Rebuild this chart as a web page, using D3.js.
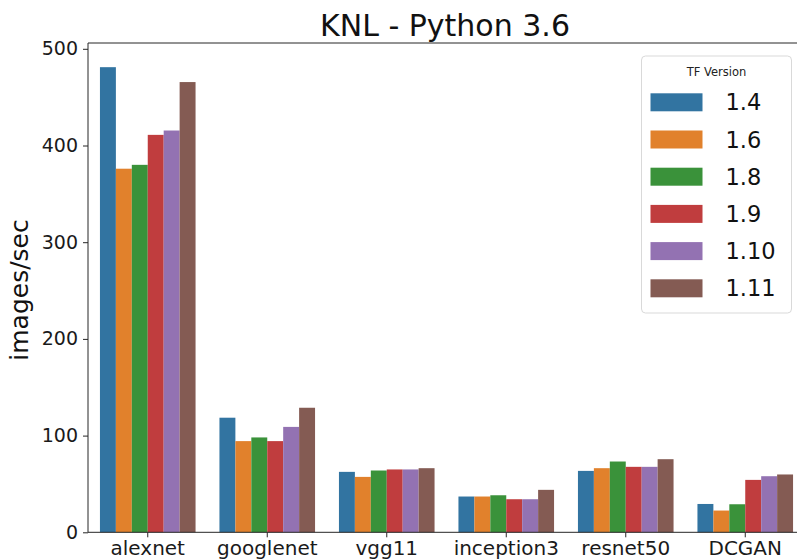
<!DOCTYPE html>
<html>
<head>
<meta charset="utf-8">
<script src="https://cdn.jsdelivr.net/npm/d3@7"></script>
<style>
  html, body { margin: 0; padding: 0; background: #fff; }
  svg { display: block; font-family: "DejaVu Sans", sans-serif; }
</style>
</head>
<body>
<svg id="chart" width="797" height="560"></svg>
<script>
// Benchmark models on the x axis
const models = ["alexnet", "googlenet", "vgg11", "inception3", "resnet50", "DCGAN"];
// TensorFlow versions (one bar per version in each group)
const versions = ["1.4", "1.6", "1.8", "1.9", "1.10", "1.11"];
// Throughput in images/sec, one array per version, ordered as `models`
const tf14  = [481, 118.5, 62.5, 37.0, 63.5, 29.3];
const tf16  = [376, 94.3, 57.3, 37.0, 66.3, 22.5];
const tf18  = [380, 98.1, 63.9, 38.3, 73.2, 29.0];
const tf19  = [411, 94.3, 65.0, 34.2, 67.7, 54.2];
const tf110 = [415.5, 109.0, 65.0, 34.2, 67.7, 58.0];
const tf111 = [465.6, 128.8, 66.3, 43.9, 75.6, 59.8];
const seriesValues = [tf14, tf16, tf18, tf19, tf110, tf111];
const yTicks = [0, 100, 200, 300, 400, 500];
const palette = ["#3274a1", "#e1812c", "#3a923a", "#c03d3e", "#9372b2", "#845b53"];

const svg = d3.select("#chart");
const plot = { left: 88, right: 805, top: 43, bottom: 532.3 };

const x = d3.scaleBand()
  .domain(models)
  .range([plot.left, plot.right])
  .paddingInner(0.2)
  .paddingOuter(0.1);

const xInner = d3.scaleBand()
  .domain(versions)
  .range([0, x.bandwidth()])
  .padding(0);

const y = d3.scaleLinear()
  .domain([0, 506])
  .range([plot.bottom, plot.top]);

const color = d3.scaleOrdinal().domain(versions).range(palette);

// Bars
const rows = [];
versions.forEach((v, i) => {
  models.forEach((m, j) => rows.push({ model: m, version: v, value: seriesValues[i][j] }));
});

svg.append("g")
  .selectAll("rect")
  .data(rows)
  .join("rect")
  .attr("x", d => x(d.model) + xInner(d.version))
  .attr("y", d => y(d.value))
  .attr("width", xInner.bandwidth())
  .attr("height", d => y(0) - y(d.value))
  .attr("fill", d => color(d.version));

// Axes
const axisColor = "#262626";
const xAxis = svg.append("g")
  .attr("transform", `translate(0,${plot.bottom})`)
  .call(d3.axisBottom(x).tickSizeOuter(0).tickSize(5).tickPadding(4));
xAxis.select(".domain").remove();
xAxis.selectAll(".tick line").attr("stroke", axisColor);
xAxis.selectAll(".tick text")
  .attr("font-size", 20)
  .attr("fill", "#1a1a1a")
  .attr("font-family", "DejaVu Sans, sans-serif");

const yAxis = svg.append("g")
  .attr("transform", `translate(${plot.left},0)`)
  .call(d3.axisLeft(y).tickValues(yTicks).tickSize(5).tickPadding(5).tickSizeOuter(0));
yAxis.select(".domain").remove();
yAxis.selectAll(".tick line").attr("stroke", axisColor);
yAxis.selectAll(".tick text")
  .attr("font-size", 19)
  .attr("fill", "#1a1a1a")
  .attr("font-family", "DejaVu Sans, sans-serif");

// Spines: left, bottom, top
const spines = svg.append("g").attr("stroke", axisColor).attr("stroke-width", 1).attr("fill", "none");
spines.append("line").attr("x1", plot.left).attr("x2", plot.left).attr("y1", plot.top).attr("y2", plot.bottom);
spines.append("line").attr("x1", plot.left).attr("x2", plot.right).attr("y1", plot.bottom).attr("y2", plot.bottom);
spines.append("line").attr("x1", plot.left).attr("x2", plot.right).attr("y1", plot.top).attr("y2", plot.top);

// Title
svg.append("text")
  .attr("x", 445)
  .attr("y", 36)
  .attr("text-anchor", "middle")
  .attr("font-size", 30)
  .attr("fill", "#111")
  .text("KNL - Python 3.6");

// Y label
svg.append("text")
  .attr("transform", `translate(28,290) rotate(-90)`)
  .attr("text-anchor", "middle")
  .attr("font-size", 25)
  .attr("fill", "#111")
  .text("images/sec");

// Legend
const legend = svg.append("g").attr("transform", "translate(641.5,56)");
legend.append("rect")
  .attr("width", 150)
  .attr("height", 257)
  .attr("rx", 4)
  .attr("fill", "#fff")
  .attr("fill-opacity", 0.85)
  .attr("stroke", "#d9d9d9");
legend.append("text")
  .attr("x", 75)
  .attr("y", 20)
  .attr("text-anchor", "middle")
  .attr("font-size", 11.5)
  .attr("fill", "#222")
  .text("TF Version");
const items = legend.selectAll("g.item")
  .data(versions)
  .join("g")
  .attr("class", "item")
  .attr("transform", (d, i) => `translate(9,${37.3 + i * 37.2})`);
items.append("rect")
  .attr("width", 52)
  .attr("height", 18)
  .attr("fill", d => color(d));
items.append("text")
  .attr("x", 75)
  .attr("y", 17)
  .attr("font-size", 22.5)
  .attr("fill", "#111")
  .text(d => d);
</script>
</body>
</html>
